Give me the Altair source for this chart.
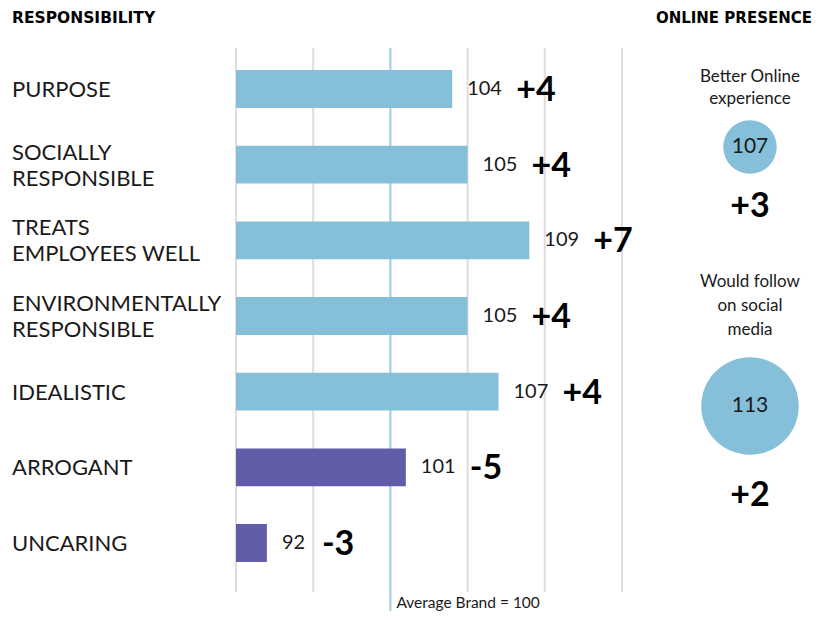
import altair as alt
import pandas as pd

# ---- data ----
categories = ["PURPOSE", "SOCIALLY\nRESPONSIBLE", "TREATS\nEMPLOYEES WELL",
              "ENVIRONMENTALLY\nRESPONSIBLE", "IDEALISTIC", "ARROGANT", "UNCARING"]
scores = [104, 105, 109, 105, 107, 101, 92]
changes = ["+4", "+4", "+7", "+4", "+4", "-5", "-3"]
traits = ["positive", "positive", "positive", "positive", "positive", "negative", "negative"]
grid_ticks = [90, 95, 105, 110, 115]
average = [100]
online_metrics = ["Better Online\nexperience", "Would follow\non social\nmedia"]
online_scores = [107, 113]
online_changes = ["+3", "+2"]

FONT = "Lato"
HFONT = "DejaVu Sans"
DARK = "#1a1a1a"

bars_df = pd.DataFrame({"category": categories, "score": scores,
                        "change": changes, "trait": traits})
grid_df = pd.DataFrame({"tick": grid_ticks})
avg_df = pd.DataFrame({"avg": average})
online_df = pd.DataFrame({"metric": online_metrics, "score": online_scores,
                          "change": online_changes})

xscale = alt.Scale(domain=[90, 115], range=[228, 614], zero=False, nice=False)
yscale = alt.Scale(domain=categories, range=[43.2, 572.8], paddingInner=0.5, paddingOuter=0.25)
X = alt.X("score:Q", scale=xscale, axis=None)
Y = alt.Y("category:N", scale=yscale, axis=None)

base = alt.Chart(bars_df)

grid = alt.Chart(grid_df).mark_rule(color="#DEDEDE", strokeWidth=2).encode(
    x=alt.X("tick:Q", scale=xscale, axis=None), y=alt.value(40), y2=alt.value(584))

avg_rule = alt.Chart(avg_df).mark_rule(color="#9ECBE1", strokeWidth=2).encode(
    x=alt.X("avg:Q", scale=xscale, axis=None), y=alt.value(40), y2=alt.value(603))

avg_label = alt.Chart(avg_df).mark_text(
    align="left", baseline="alphabetic", dx=6, fontSize=15.5, font=FONT, color=DARK
).encode(x=alt.X("avg:Q", scale=xscale, axis=None), y=alt.value(599.5),
         text=alt.value("Average Brand = 100"))

bars = base.mark_bar().encode(
    x=X, x2=alt.datum(90), y=Y,
    color=alt.Color("trait:N", scale=alt.Scale(domain=["positive", "negative"],
                                               range=["#86BFDA", "#625DA9"]), legend=None))

cat_one = base.transform_filter("indexof(datum.category, '\\n') < 0").mark_text(
    align="left", baseline="middle", fontSize=22, font=FONT, color=DARK, dy=1
).encode(x=alt.value(4), y=Y, text="category:N")

cat_two = base.transform_filter("indexof(datum.category, '\\n') >= 0").mark_text(
    align="left", baseline="middle", fontSize=22, font=FONT, color=DARK,
    lineBreak="\n", lineHeight=26, dy=-12
).encode(x=alt.value(4), y=Y, text="category:N")

val_labels = base.mark_text(
    align="left", baseline="middle", dx=15, fontSize=20, font=FONT, color=DARK
).encode(x=X, y=Y, text="score:Q")

delta3 = base.transform_filter("datum.score >= 100").mark_text(
    align="left", baseline="middle", dx=64, dy=2, fontSize=34, fontWeight="bold", font=FONT, color="#000"
).encode(x=X, y=Y, text="change:N")

delta2 = base.transform_filter("datum.score < 100").mark_text(
    align="left", baseline="middle", dx=55, dy=2, fontSize=34, fontWeight="bold", font=FONT, color="#000"
).encode(x=X, y=Y, text="change:N")

h1 = alt.Chart(avg_df).mark_text(
    align="left", baseline="middle", fontSize=15.5, fontWeight="bold", font=HFONT, color="#000"
).encode(x=alt.value(4), y=alt.value(10), text=alt.value("RESPONSIBILITY"))

h2 = alt.Chart(avg_df).mark_text(
    align="right", baseline="middle", fontSize=15, fontWeight="bold", font=HFONT, color="#000"
).encode(x=alt.value(804), y=alt.value(10), text=alt.value("ONLINE PRESENCE"))

# right panel
oscale = alt.Scale(domain=online_metrics, range=[9.5, 527.5], paddingInner=0, paddingOuter=0)
OY = alt.Y("metric:N", scale=oscale, axis=None)
obase = alt.Chart(online_df)

circles = obase.mark_circle(opacity=1, color="#86BFDA").encode(
    x=alt.value(742), y=OY,
    size=alt.Size("score:Q", scale=alt.Scale(domain=[107, 113], range=[2860, 9500], zero=False),
                  legend=None))
circle_text = obase.mark_text(baseline="middle", fontSize=21, font=FONT, color=DARK).encode(
    x=alt.value(742), y=OY, text="score:Q")

online_layers = []
offsets = {online_metrics[0]: (-70, 60, 22), online_metrics[1]: (-124, 90, 24)}
for m in online_metrics:
    lab_dy, delta_dy, lh = offsets[m]
    sub = obase.transform_filter(alt.datum.metric == m)
    online_layers.append(sub.mark_text(
        baseline="middle", dy=lab_dy, fontSize=17, font=FONT, color=DARK,
        lineBreak="\n", lineHeight=lh
    ).encode(x=alt.value(742), y=OY, text="metric:N"))
    online_layers.append(sub.mark_text(
        baseline="middle", dy=delta_dy, fontSize=34, fontWeight="bold", font=FONT, color="#000"
    ).encode(x=alt.value(742), y=OY, text="change:N"))

chart = alt.layer(
    grid, avg_rule, avg_label, bars, cat_one, cat_two, val_labels, delta3, delta2, h1, h2,
    circles, circle_text, *online_layers
).resolve_scale(y="independent").properties(
    width=810, height=603, autosize=alt.AutoSizeParams(type="none"), padding=0
).configure_view(stroke=None)

chart.save("out.html", embed_options={"renderer": "svg", "actions": False})
